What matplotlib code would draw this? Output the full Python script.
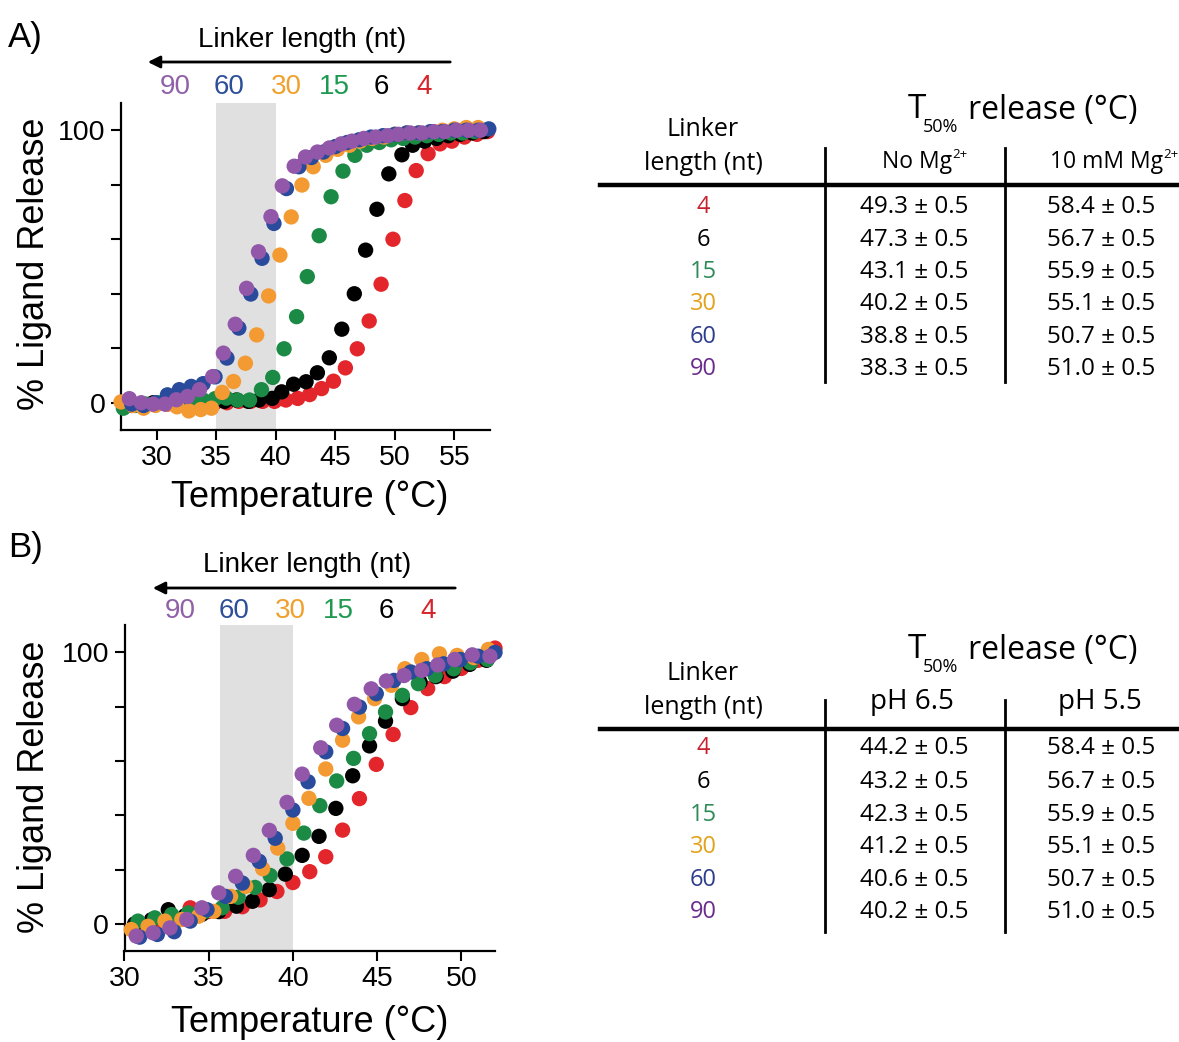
import matplotlib
matplotlib.use('Agg')
import matplotlib.pyplot as plt
from matplotlib.patches import FancyArrowPatch

# ---- data: panel A (Mg2+ series) ----
A_T90 = [27.7, 28.7, 29.7, 30.7, 31.65, 32.6, 33.6, 34.7, 35.6, 36.6, 37.55, 38.55, 39.6, 40.55, 41.55, 42.5,
         43.5, 44.5, 45.5, 46.4, 47.4, 48.4, 49.4, 50.3, 51.3, 52.3, 53.3, 54.2, 55.2, 56.2, 57.2]
A_R90 = [1.5, 0, -0.5, -0.5, 1.1, 2.3, 4.8, 9.6, 18.2, 28.8, 42, 55.4, 68.3, 79.6, 86.8, 90.2,
         92, 93.5, 95, 96, 97, 97.5, 98, 98.5, 99, 99, 99.5, 99.5, 100, 100, 100]
A_T60 = [27.9, 28.9, 29.9, 30.9, 31.9, 32.9, 33.9, 34.9, 35.9, 36.9, 37.9, 38.85, 39.85, 40.9, 41.95, 43.0,
         44, 45, 46, 47, 48, 49, 50, 51, 52, 53, 54, 55, 56, 57, 57.9]
A_R60 = [-0.5, -1, 0, 2.9, 4.8, 6, 7, 9.5, 16.4, 27.4, 39.9, 53, 65.8, 78.6, 86.6, 90,
         92, 94, 95.5, 96.5, 97.5, 98, 98.5, 99, 99, 99.5, 99.5, 100, 100, 100, 100.5]
A_T30 = [27.0, 28.0, 28.9, 29.9, 30.8, 31.7, 32.7, 33.7, 34.6, 35.5, 36.45, 37.45, 38.4, 39.4, 40.35, 41.3,
         42.2, 43.15, 44.2, 45.2, 46.2, 47.1, 48.1, 49.1, 50.0, 51.0, 52.0, 53.0, 54.0, 55.0, 56.0, 57.0]
A_R30 = [0.3, -1, -2, -1, -0.5, -1.5, -3, -2.5, -2, 3.8, 7.8, 14.5, 24.9, 39.2, 54.2, 68.2,
         79.9, 86.6, 90.8, 93, 94.5, 96, 97, 97.5, 98.5, 99, 99, 99.5, 100, 100.5, 101, 101]
A_T15 = [27.2, 28.2, 29.1, 30.1, 31.0, 32.0, 33.0, 33.9, 34.9, 35.85, 36.8, 37.8, 38.8, 39.75, 40.7, 41.75,
         42.65, 43.65, 44.65, 45.65, 46.65, 47.65, 48.7, 49.7, 50.7, 51.7, 52.7, 53.7, 54.7, 55.7, 56.7]
A_R15 = [-2, -1, -0.5, 0, 0, 0.5, 0.5, 1, 1.5, 1.7, 1.0, 1.0, 4.8, 9.3, 19.8, 31.6,
         46.3, 61.3, 75.6, 85, 90.8, 94.5, 95.5, 96.5, 97, 97.5, 98, 98.5, 99, 99, 99.5]
A_T6 = [27.7, 28.7, 29.7, 30.7, 31.7, 32.7, 33.7, 34.7, 35.7, 36.7, 37.7, 38.6, 39.7, 40.5, 41.5, 42.55,
        43.5, 44.5, 45.55, 46.6, 47.55, 48.5, 49.5, 50.6, 51.5, 52.5, 53.5, 54.5, 55.5, 56.5, 57.5]
A_R6 = [-0.5, -0.5, 0, 0, 0, 0, 0.5, 0.5, 0.5, 1, 0.5, 1, 1.6, 4.0, 6.8, 7.7,
        11, 16.5, 27, 40, 56, 71, 84, 91, 94.5, 96, 97, 98, 98.5, 99, 99.5]
A_T4 = [27.9, 28.9, 29.9, 30.9, 31.9, 32.9, 33.9, 34.9, 35.9, 36.9, 37.9, 38.9, 39.9, 40.85, 41.85, 42.85,
        43.85, 44.85, 45.85, 46.85, 47.85, 48.85, 49.85, 50.85, 51.8, 52.8, 53.8, 54.8, 55.85, 56.9, 57.8]
A_R4 = [-1, -1, -0.5, -0.5, 0, 0, 0, 0, 0, 0.5, 0.5, 0.5, 0.5, 1.0, 1.6, 3.0,
        5.2, 7.9, 12.8, 19.8, 30, 43.5, 60, 74.2, 85.2, 91.4, 95, 96, 97.5, 98.5, 99.5]

# ---- data: panel B (pH series) ----
B_T90 = [30.7, 31.7, 32.7, 33.7, 34.6, 35.6, 36.6, 37.65, 38.6, 39.65, 40.55, 41.65, 42.6, 43.65, 44.65,
         45.55, 46.6, 47.65, 48.6, 49.6, 50.65, 51.7]
B_R90 = [-4.5, -3.3, -1.5, 1.6, 5.9, 11.4, 17.5, 25.2, 34.4, 44.7, 55.1, 64.8, 73.1, 80.8, 86.5,
         89.4, 91.4, 93.3, 95.3, 97.3, 99, 98.5]
B_T60 = [30.9, 31.95, 32.95, 33.9, 34.9, 36.0, 37.0, 38.0, 38.95, 40.0, 40.9, 41.95, 42.95, 43.95, 44.95,
         46.0, 47.0, 47.95, 48.95, 49.95, 51.0, 52.0]
B_R60 = [-4.9, -3.9, -2.9, 1.0, 5.2, 10.1, 15, 23, 31.5, 41.9, 52.3, 63.3, 71.9, 79.8, 84.7,
         89.6, 92.7, 93.9, 95.7, 97.3, 98.5, 99.9]
B_T30 = [30.4, 31.4, 32.4, 33.4, 34.4, 35.3, 36.3, 37.2, 38.2, 39.1, 40.0, 40.95, 41.95, 42.95, 43.9,
         44.85, 45.85, 46.65, 47.65, 48.7, 49.75, 50.75, 51.6]
B_R30 = [-2.1, -0.9, 1.0, 1.6, 2.8, 4.6, 10.1, 13.8, 20.3, 27.9, 37, 46.2, 57, 67.6, 76.2,
         82.9, 87.8, 93.9, 97.3, 99.4, 98.8, 98, 101]
B_T15 = [30.8, 31.8, 32.8, 33.8, 34.8, 35.8, 36.75, 37.75, 38.65, 39.65, 40.65, 41.6, 42.6, 43.6, 44.55,
         45.5, 46.5, 47.45, 48.45, 49.55, 50.55, 51.55]
B_R15 = [1.0, 2.2, 3.4, 4.0, 4.6, 5.9, 9.8, 13.4, 17.8, 23.9, 33.4, 43.5, 52.6, 60.9, 70,
         78, 84.1, 88.4, 91.4, 93.9, 96.1, 97.3]
B_T6 = [30.6, 31.6, 32.6, 33.6, 34.6, 35.6, 36.65, 37.6, 38.6, 39.55, 40.55, 41.55, 42.55, 43.55, 44.55,
        45.5, 46.5, 47.55, 48.5, 49.5, 50.5, 51.5]
B_R6 = [0, 1.5, 5.2, 3.0, 3.5, 4.5, 6.5, 8.3, 12.6, 18.3, 25.2, 32.2, 42.5, 54.5, 65.5,
        74.6, 82.9, 89, 91, 93, 95.5, 97]
B_T4 = [30.9, 31.9, 32.9, 33.9, 34.95, 35.95, 37.0, 38.05, 39.05, 40.0, 41.0, 41.95, 42.95, 43.95, 44.95,
        45.95, 47.0, 48.0, 49.0, 50.0, 51.0, 52.0]
B_R4 = [-2, 0, 2, 5.9, 4.5, 4.6, 6.3, 8.8, 11.9, 15.2, 19.2, 24.7, 34.5, 46.1, 58.7,
        69.7, 79.6, 86.6, 91, 94, 97, 101.5]

# ---- tables ----
LINKERS = ['4', '6', '15', '30', '60', '90']
A_NO_MG = ['49.3 ± 0.5', '47.3 ± 0.5', '43.1 ± 0.5', '40.2 ± 0.5', '38.8 ± 0.5', '38.3 ± 0.5']
A_MG10 = ['58.4 ± 0.5', '56.7 ± 0.5', '55.9 ± 0.5', '55.1 ± 0.5', '50.7 ± 0.5', '51.0 ± 0.5']
B_PH65 = ['44.2 ± 0.5', '43.2 ± 0.5', '42.3 ± 0.5', '41.2 ± 0.5', '40.6 ± 0.5', '40.2 ± 0.5']
B_PH55 = ['58.4 ± 0.5', '56.7 ± 0.5', '55.9 ± 0.5', '55.1 ± 0.5', '50.7 ± 0.5', '51.0 ± 0.5']

# colours (dots / header numbers / table numbers)
DOT = {'90': '#9257a8', '60': '#2a4b9b', '30': '#f39a33', '15': '#1b8a45', '6': '#000000', '4': '#e3262b'}
TXT = {'90': '#9060a8', '60': '#2d4e98', '30': '#f0a02c', '15': '#1e9a50', '6': '#000000', '4': '#d8232a'}
TAB = {'4': '#c8202f', '6': '#000000', '15': '#2e8b57', '30': '#e2a21a', '60': '#2e3c8c', '90': '#6a2c8c'}

W, H = 1179, 1042
plt.rcParams['font.family'] = ['Liberation Sans', 'DejaVu Sans']
fig = plt.figure(figsize=(W / 100, H / 100), dpi=100)


def fx(x):
    return x / W


def fy(y):
    return 1 - y / H


def panel(rect, series, xlim, xticks, band):
    ax = fig.add_axes(rect)
    ax.axvspan(band[0], band[1], color='#e0e0e0', zorder=0, lw=0)
    for key, t, r in series:
        ax.scatter(t, r, s=122, color=DOT[key], edgecolors='none', zorder=3, clip_on=False)
    ax.set_xlim(*xlim)
    ax.set_ylim(-10, 110)
    ax.set_xticks(xticks)
    ax.set_yticks([0, 20, 40, 60, 80, 100])
    ax.set_yticklabels(['0', '', '', '', '', '100'])
    for s in ['top', 'right']:
        ax.spines[s].set_visible(False)
    for s in ['left', 'bottom']:
        ax.spines[s].set_linewidth(1.6)
    ax.tick_params(direction='out', length=7, width=1.5, labelsize=20.5, pad=4)
    return ax


series_a = [('4', A_T4, A_R4), ('6', A_T6, A_R6), ('15', A_T15, A_R15),
            ('30', A_T30, A_R30), ('60', A_T60, A_R60), ('90', A_T90, A_R90)]
series_b = [('4', B_T4, B_R4), ('6', B_T6, B_R6), ('15', B_T15, B_R15),
            ('30', B_T30, B_R30), ('60', B_T60, B_R60), ('90', B_T90, B_R90)]

panel([fx(121), fy(430), (490 - 121) / W, (430 - 103) / H], series_a, (27, 58),
      [30, 35, 40, 45, 50, 55], (35, 40))
panel([fx(124.5), fy(951), (495 - 124.5) / W, (951 - 625) / H], series_b, (30, 52),
      [30, 35, 40, 45, 50], (35.7, 40))

# panel letters, axis labels
fig.text(fx(8), fy(38), 'A)', fontsize=25, va='center', ha='left')
fig.text(fx(8), fy(548), 'B)', fontsize=25, va='center', ha='left')
for yc in (264, 787):
    fig.text(fx(35), fy(yc), '% Ligand Release', fontsize=26, rotation=90, ha='center', va='center')
for yc in (498, 1022):
    fig.text(fx(310), fy(yc), 'Temperature (°C)', fontsize=26, ha='center', va='center')


def linker_header(y_title, y_arrow, y_nums, x_arrow, xs):
    fig.text(fx((x_arrow[0] + x_arrow[1]) / 2 + 3), fy(y_title), 'Linker length (nt)', fontsize=20,
             ha='center', va='center')
    fig.add_artist(FancyArrowPatch((fx(x_arrow[1]), fy(y_arrow)), (fx(x_arrow[0]), fy(y_arrow)),
                                   transform=fig.transFigure, arrowstyle='-|>', mutation_scale=18,
                                   lw=2, color='black'))
    for key, x in zip(['90', '60', '30', '15', '6', '4'], xs):
        fig.text(fx(x), fy(y_nums), key, fontsize=20, color=TXT[key], ha='center', va='center')


linker_header(40, 62, 87, (145, 453), [175, 229, 286, 334, 381, 424])
linker_header(565, 588, 611, (150, 458), [180, 234, 290, 338, 386, 428])

# ---- tables ----
TF = ['Open Sans', 'DejaVu Sans']


def table(y_title, y_link, heads, y_rule, y_vtop, y_vbot, rows_y, col1, col2, sup):
    fig.text(fx(917), fy(y_title), 'T', fontsize=24, family=TF, ha='center', va='center')
    fig.text(fx(940), fy(y_title + 17), '50%', fontsize=13, family=TF, ha='center', va='center')
    fig.text(fx(1053), fy(y_title), 'release (°C)', fontsize=23, family=TF, ha='center', va='center')
    fig.text(fx(703), fy(y_link), 'Linker', fontsize=18, family=TF, ha='center', va='center')
    fig.text(fx(703), fy(y_link + 34), 'length (nt)', fontsize=18, family=TF, ha='center', va='center')
    for txt, x, y, size, ha in heads:
        fig.text(fx(x), fy(y), txt, fontsize=size, family=TF, ha=ha, va='center')
    if sup:
        for x in (952, 1163):
            fig.text(fx(x), fy(y_link + 25), '2+', fontsize=9.5, family=TF, ha='left', va='center')
    fig.add_artist(plt.Line2D([fx(600), fx(1179)], [fy(y_rule), fy(y_rule)], lw=3.2, color='black'))
    for x in (825, 1005):
        fig.add_artist(plt.Line2D([fx(x), fx(x)], [fy(y_vtop), fy(y_vbot)], lw=2, color='black'))
    for key, y, a, b in zip(LINKERS, rows_y, col1, col2):
        fig.text(fx(703), fy(y), key, fontsize=17, family=TF, color=TAB[key], ha='center', va='center')
        fig.text(fx(914), fy(y), a, fontsize=17.5, family=TF, ha='center', va='center')
        fig.text(fx(1101), fy(y), b, fontsize=17.5, family=TF, ha='center', va='center')


table(110, 130, [('No Mg', 952, 162, 16.5, 'right'), ('10 mM Mg', 1163, 162, 16.5, 'right')],
      185, 148, 382, [207, 240, 272, 304, 337, 369], A_NO_MG, A_MG10, True)
table(650, 673, [('pH 6.5', 912, 702, 20, 'center'), ('pH 5.5', 1100, 702, 20, 'center')],
      729, 700, 932, [748, 782, 815, 847, 880, 912], B_PH65, B_PH55, False)

fig.savefig('out.png', dpi=100)
